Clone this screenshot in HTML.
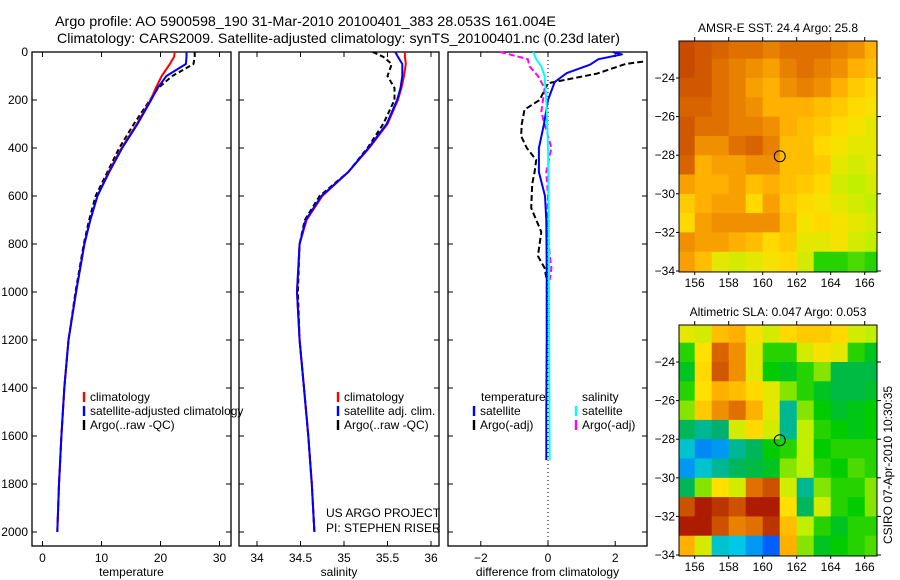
<!DOCTYPE html>
<html><head><meta charset="utf-8"><style>
body{margin:0;background:#fff;width:900px;height:580px;overflow:hidden}
svg{display:block;font-family:"Liberation Sans",sans-serif}
text{font-size:12px;fill:#000}
</style></head><body>
<svg id="fig" width="900" height="580" xmlns="http://www.w3.org/2000/svg">
<text x="55" y="26" textLength="501" lengthAdjust="spacingAndGlyphs" style="font-size:14px">Argo profile: AO 5900598_190 31-Mar-2010 20100401_383 28.053S 161.004E</text>
<text x="57" y="43" textLength="563" lengthAdjust="spacingAndGlyphs" style="font-size:14px">Climatology: CARS2009. Satellite-adjusted climatology: synTS_20100401.nc (0.23d later)</text>
</svg>
<script>
// ---------- data ----------
const tDepth=[0,20,50,100,150,200,300,400,500,600,700,800,1000,1200,1400,1600,1800,2000];
const tClim=[22.4,22.3,21.6,20.2,19.2,18.3,16,13.4,11.2,9.3,8.1,7.1,5.7,4.4,3.7,3.2,2.8,2.5];
const tSat=[24.4,24.4,24.3,21.0,19.5,18.4,16.1,13.5,11.3,9.3,8.1,7.1,5.7,4.4,3.7,3.2,2.8,2.5];
const tArgo=[25.8,25.8,25.6,22.0,19.6,18.2,15.5,13.0,11.0,9.0,7.9,7.0,5.6,4.4,3.7,3.2,2.8,2.5];
const sClim=[35.70,35.70,35.71,35.69,35.66,35.62,35.50,35.29,35.05,34.75,34.57,34.49,34.46,34.49,34.54,34.59,34.63,34.66];
const sSat=[35.59,35.62,35.67,35.67,35.65,35.61,35.49,35.28,35.05,34.74,34.56,34.49,34.46,34.49,34.54,34.59,34.63,34.66];
const sArgo=[35.33,35.45,35.55,35.50,35.58,35.58,35.45,35.27,35.05,34.72,34.55,34.49,34.47,34.49,34.54,34.59,34.63,34.66];
const tDiffSatDepth=[0,10,30,53,88,125,200,300,400,500,600,700,900,1200,1500,1700];
const tDiffSat=[1.93,2.2,1.5,1.25,0.56,0.2,0,-0.12,-0.27,-0.27,-0.09,-0.05,-0.04,-0.04,-0.05,-0.05];
const tDiffArgoDepth=[40,50,90,130,200,240,300,350,400,450,500,550,650,750,850,900,940];
const tDiffArgo=[2.83,2.3,1.46,0,-0.25,-0.7,-0.78,-0.8,-0.63,-0.35,-0.4,-0.47,-0.5,-0.2,-0.3,-0.1,-0.05];
const sDiffSatDepth=[0,30,60,100,200,400,600,1000,1400,1700];
const sDiffSat=[-0.44,-0.35,-0.2,-0.1,-0.05,0,0.02,0.03,0.04,0.05];
const sDiffArgoDepth=[0,15,30,60,100,150,200,250,300,400,500,600,700,850,900,950];
const sDiffArgo=[-1.43,-1.0,-0.6,-0.55,-0.3,-0.1,-0.15,-0.2,-0.1,0.1,-0.05,0,-0.02,0.05,0.1,0.05];
const depthTicks=[0,200,400,600,800,1000,1200,1400,1600,1800,2000];
const tempTicks=[0,10,20,30];
const salTicks=[34,34.5,35,35.5,36];
const diffTicks=[-2,0,2];
const latTicks=[24,26,28,30,32,34];
const lonTicks=[156,158,160,162,164,166];
const sstGrid=[
[.86,.84,.82,.8,.8,.78,.8,.8,.8,.78,.76,.72],
[.86,.84,.8,.78,.76,.74,.78,.8,.78,.76,.72,.7],
[.84,.84,.8,.78,.74,.72,.76,.78,.76,.72,.68,.66],
[.82,.82,.8,.78,.76,.72,.72,.72,.7,.68,.66,.64],
[.84,.8,.8,.78,.78,.76,.72,.7,.68,.66,.64,.62],
[.84,.76,.76,.8,.82,.78,.7,.7,.66,.64,.62,.62],
[.82,.72,.74,.74,.76,.76,.7,.7,.68,.62,.6,.62],
[.74,.72,.72,.74,.7,.72,.7,.68,.66,.6,.58,.6],
[.68,.72,.74,.74,.66,.74,.68,.66,.64,.62,.6,.58],
[.66,.74,.76,.76,.76,.76,.7,.64,.66,.64,.62,.6],
[.76,.74,.74,.72,.7,.66,.68,.62,.62,.64,.6,.58],
[.74,.7,.62,.6,.62,.64,.66,.6,.5,.5,.52,.5]];
const slaGrid=[
[.62,.6,.7,.72,.64,.6,.66,.68,.68,.66,.6,.58],
[.5,.65,.82,.76,.62,.5,.5,.6,.64,.62,.5,.45],
[.45,.66,.84,.76,.62,.48,.45,.5,.55,.42,.42,.42],
[.5,.65,.72,.7,.66,.62,.55,.5,.45,.42,.42,.44],
[.55,.68,.76,.8,.72,.62,.35,.55,.48,.44,.46,.48],
[.4,.35,.38,.6,.66,.6,.35,.58,.5,.48,.46,.48],
[.3,.2,.22,.35,.4,.48,.5,.58,.48,.5,.5,.5],
[.22,.3,.35,.4,.42,.45,.55,.58,.5,.48,.52,.5],
[.4,.55,.65,.6,.8,.85,.6,.35,.55,.5,.5,.55],
[.85,.95,.9,.85,.95,.95,.65,.4,.6,.5,.48,.55],
[.95,.95,.85,.78,.8,.9,.7,.58,.5,.45,.5,.5],
[.72,.6,.3,.28,.22,.15,.72,.55,.45,.48,.5,.52]];
const gridLon0=155, gridLat0=22;
const floatLon=161.004, floatLat=28.053;

// ---------- helpers ----------
const NS="http://www.w3.org/2000/svg";
const svg=document.getElementById('fig');
function el(tag,attrs,parent){const e=document.createElementNS(NS,tag);for(const k in attrs)e.setAttribute(k,attrs[k]);(parent||svg).appendChild(e);return e;}
function txt(x,y,s,anchor,parent,size){const t=el('text',{x:x,y:y,'text-anchor':anchor||'start'},parent);if(size)t.style.fontSize=size+'px';t.textContent=s;return t;}
const PT=52,PB=546;
const yD=d=>PT+d*0.24;
function panel(name,x0,x1,xs,ticks,xlabel,showDepth){
  const g=el('g',{});
  
  
  const r=el('rect',{x:x0,y:PT,width:x1-x0,height:PB-PT,fill:'none',stroke:'#000','stroke-width':1.3},g);
  
  
  ticks.forEach(v=>{const x=xs(v);
    el('line',{x1:x,x2:x,y1:PT,y2:PT+5,stroke:'#000'},g);
    el('line',{x1:x,x2:x,y1:PB,y2:PB-5,stroke:'#000'},g);
    const t=txt(x,562,String(v).replace('-','\u2212'),'middle',g);
    
    });
  depthTicks.forEach(d=>{const y=yD(d);
    el('line',{x1:x0,x2:x0+5,y1:y,y2:y,stroke:'#000'},g);
    el('line',{x1:x1,x2:x1-5,y1:y,y2:y,stroke:'#000'},g);
    if(showDepth){const t=txt(x0-4,y+4,String(d),'end',g);
      
      }});
  const xl=txt((x0+x1)/2,576,xlabel,'middle',g);
  
  
  return g;
}
function series(name,g,xs,depths,vals,color,dash,w){
  const pts=vals.map((v,i)=>xs(v).toFixed(1)+','+yD(depths[i]).toFixed(1)).join(' ');
  const p=el('polyline',{points:pts,fill:'none',stroke:color,'stroke-width':w||2,'stroke-dasharray':dash||'none','stroke-linejoin':'round'},g);
  
  
}
function legend(g,x,y,color,label){
  el('line',{x1:x,x2:x,y1:y-9,y2:y+1,stroke:color,'stroke-width':2.4},g);
  const t=txt(x+6,y,label,'start',g);
  
  
}
// ---------- temperature ----------
const xT=v=>42.5+v*5.9;
const g1=panel('temperature-panel',32,231,xT,tempTicks,'temperature',true);
series('temp-argo-line',g1,xT,tDepth,tArgo,'#000','5,3');
series('temp-climatology-line',g1,xT,tDepth,tClim,'#f00');
series('temp-satellite-line',g1,xT,tDepth,tSat,'#00f');
legend(g1,84,401,'#f00','climatology');
legend(g1,84,415,'#00f','satellite-adjusted climatology');
legend(g1,84,429,'#000','Argo(..raw -QC)');
// ---------- salinity ----------
const xS=v=>257+(v-34)*87;
const g2=panel('salinity-panel',239,439,xS,salTicks,'salinity',false);
series('sal-argo-line',g2,xS,tDepth,sArgo,'#000','5,3');
series('sal-climatology-line',g2,xS,tDepth,sClim,'#f00');
series('sal-satellite-line',g2,xS,tDepth,sSat,'#00f');
legend(g2,338,401,'#f00','climatology');
legend(g2,338,415,'#00f','satellite adj. clim.');
legend(g2,338,429,'#000','Argo(..raw -QC)');
const pr1=txt(326,517,'US ARGO PROJECT','start',g2);


const pr2=txt(326,532,'PI: STEPHEN RISER','start',g2);


// ---------- difference ----------
const xDf=v=>548+v*33.6;
const g3=panel('difference-panel',448,647,xDf,diffTicks,'difference from climatology',false);
el('line',{x1:xDf(0),x2:xDf(0),y1:PT,y2:PB,stroke:'#000','stroke-dasharray':'1,3'},g3);
series('sal-diff-argo-line',g3,xDf,sDiffArgoDepth,sDiffArgo,'#f0f','6,3');
series('temp-diff-argo-line',g3,xDf,tDiffArgoDepth,tDiffArgo,'#000','6,3');
series('temp-diff-satellite-line',g3,xDf,tDiffSatDepth,tDiffSat,'#00f');
series('sal-diff-satellite-line',g3,xDf,sDiffSatDepth,sDiffSat,'#0ff');
txt(481,401,'temperature','start',g3);
txt(582,401,'salinity','start',g3);
legend(g3,474,415,'#00f','satellite');
legend(g3,474,429,'#000','Argo(-adj)');
legend(g3,576,415,'#0ff','satellite');
legend(g3,576,429,'#f0f','Argo(-adj)');
// ---------- maps ----------
const cstops=[[0,[0,0,160]],[.15,[0,96,255]],[.28,[0,200,230]],[.38,[0,176,112]],[.48,[0,204,0]],[.58,[192,240,0]],[.65,[255,224,0]],[.72,[255,176,0]],[.8,[224,112,0]],[.88,[192,64,0]],[1,[160,0,0]]];
function cmap(v){for(let i=1;i<cstops.length;i++){if(v<=cstops[i][0]){const a=cstops[i-1],b=cstops[i],f=(v-a[0])/(b[0]-a[0]);return 'rgb('+a[1].map((c,k)=>Math.round(c+(b[1][k]-c)*f)).join(',')+')';}}return 'rgb(160,0,0)';}
function mapPanel(name,title,grid,mTop,lat24y,pxLat){
  const x0=679,x1=877,lonX=l=>694.7+(l-156)*17,latY=l=>lat24y+(l-24)*pxLat;
  const bottom=latY(34.05);
  const g=el('g',{});
  
  
  const cp=el('clipPath',{id:name+'-clip'},g);
  el('rect',{x:x0,y:mTop,width:x1-x0,height:bottom-mTop},cp);
  const cells=el('g',{'clip-path':'url(#'+name+'-clip)'},g);
  grid.forEach((row,r)=>row.forEach((v,c)=>{
    const rc=el('rect',{x:lonX(gridLon0+c),y:latY(gridLat0+r),width:17.5,height:pxLat+0.5,fill:cmap(v)},cells);
    
    
  }));
  const fr=el('rect',{x:x0,y:mTop,width:x1-x0,height:bottom-mTop,fill:'none',stroke:'#000','stroke-width':1},g);
  
  
  const fc=el('circle',{cx:lonX(floatLon),cy:latY(floatLat),r:5.5,fill:'none',stroke:'#000','stroke-width':1},g);
  
  
  latTicks.forEach(l=>{const y=latY(l);el('line',{x1:x1,x2:x1+4,y1:y,y2:y,stroke:'#000'},g);el('line',{x1:x0,x2:x0-3,y1:y,y2:y,stroke:'#000'},g);
    txt(x0-4,y+4,'\u2212'+l,'end',g);});
  lonTicks.forEach(l=>{const x=lonX(l);el('line',{x1:x,x2:x,y1:mTop,y2:mTop-4,stroke:'#000'},g);el('line',{x1:x,x2:x,y1:bottom,y2:bottom+3,stroke:'#000'},g);
    txt(x,bottom+15,String(l),'middle',g);});
  const t=txt(778,mTop-9,title,'middle',g);
  
  
}
mapPanel('sst-map','AMSR-E SST: 24.4  Argo: 25.8',sstGrid,41,78,19.3);
mapPanel('sla-map','Altimetric SLA: 0.047  Argo: 0.053',slaGrid,325,362,19.3);
const stamp=txt(0,0,'CSIRO 07-Apr-2010 10:30:35','middle');
stamp.setAttribute('transform','translate(892,465) rotate(-90)');


</script>
</body></html>
